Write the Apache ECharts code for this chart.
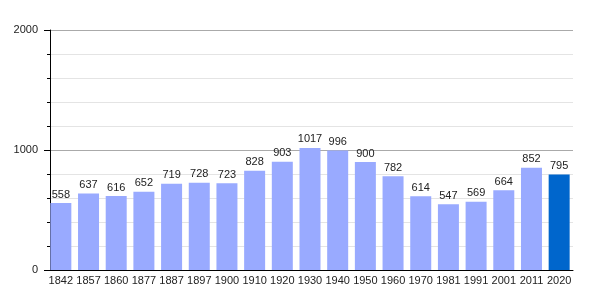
<!DOCTYPE html>
<html>
<head>
<meta charset="utf-8">
<script src="https://cdn.jsdelivr.net/npm/echarts@6/dist/echarts.min.js"></script>
<style>
  html, body { margin: 0; padding: 0; background: #fff; }
  #chart { width: 600px; height: 300px; }
</style>
</head>
<body>
<div id="chart"></div>
<script>
const years = ['1842', '1857', '1860', '1877', '1887', '1897', '1900', '1910', '1920', '1930',
  '1940', '1950', '1960', '1970', '1981', '1991', '2001', '2011', '2020'];
const population = [558, 637, 616, 652, 719, 728, 723, 828, 903, 1017,
  996, 900, 782, 614, 547, 569, 664, 852, 795];
const yTicks = [0, 1000, 2000];

const barColor = '#99aaff';
const lastColor = '#0066cc';
const textColor = '#222';
const font = 'Liberation Sans, Arial';

const chart = echarts.init(document.getElementById('chart'));

chart.setOption({
  animation: false,
  grid: { left: 47, right: 27, top: 30, bottom: 30 },
  xAxis: {
    type: 'category',
    data: years,
    axisLine: { lineStyle: { color: '#000', width: 1 } },
    axisTick: { show: false },
    axisLabel: { interval: 0, color: textColor, fontSize: 11, fontFamily: font, margin: 5 },
  },
  yAxis: {
    type: 'value',
    min: yTicks[0],
    max: yTicks[yTicks.length - 1],
    interval: 1000,
    offset: -3,
    axisLine: { show: true, lineStyle: { color: '#000', width: 1 } },
    axisTick: { show: true, length: 6, lineStyle: { color: '#000' } },
    minorTick: { show: true, splitNumber: 5, length: 3, lineStyle: { color: '#000' } },
    axisLabel: { color: textColor, fontSize: 11, fontFamily: font, margin: 12, formatter: v => String(v) },
    splitLine: { show: true, lineStyle: { color: '#aaa', width: 1 } },
    minorSplitLine: { show: true, lineStyle: { color: '#e4e4e4', width: 1 } },
  },
  series: [{
    type: 'bar',
    data: population.map((v, i) => ({
      value: v,
      itemStyle: { color: i === population.length - 1 ? lastColor : barColor },
    })),
    barWidth: 21,
    label: {
      show: true,
      position: 'top',
      distance: 3,
      color: textColor,
      fontSize: 11,
      fontFamily: font,
      formatter: p => String(p.value),
    },
  }],
});
</script>
</body>
</html>
